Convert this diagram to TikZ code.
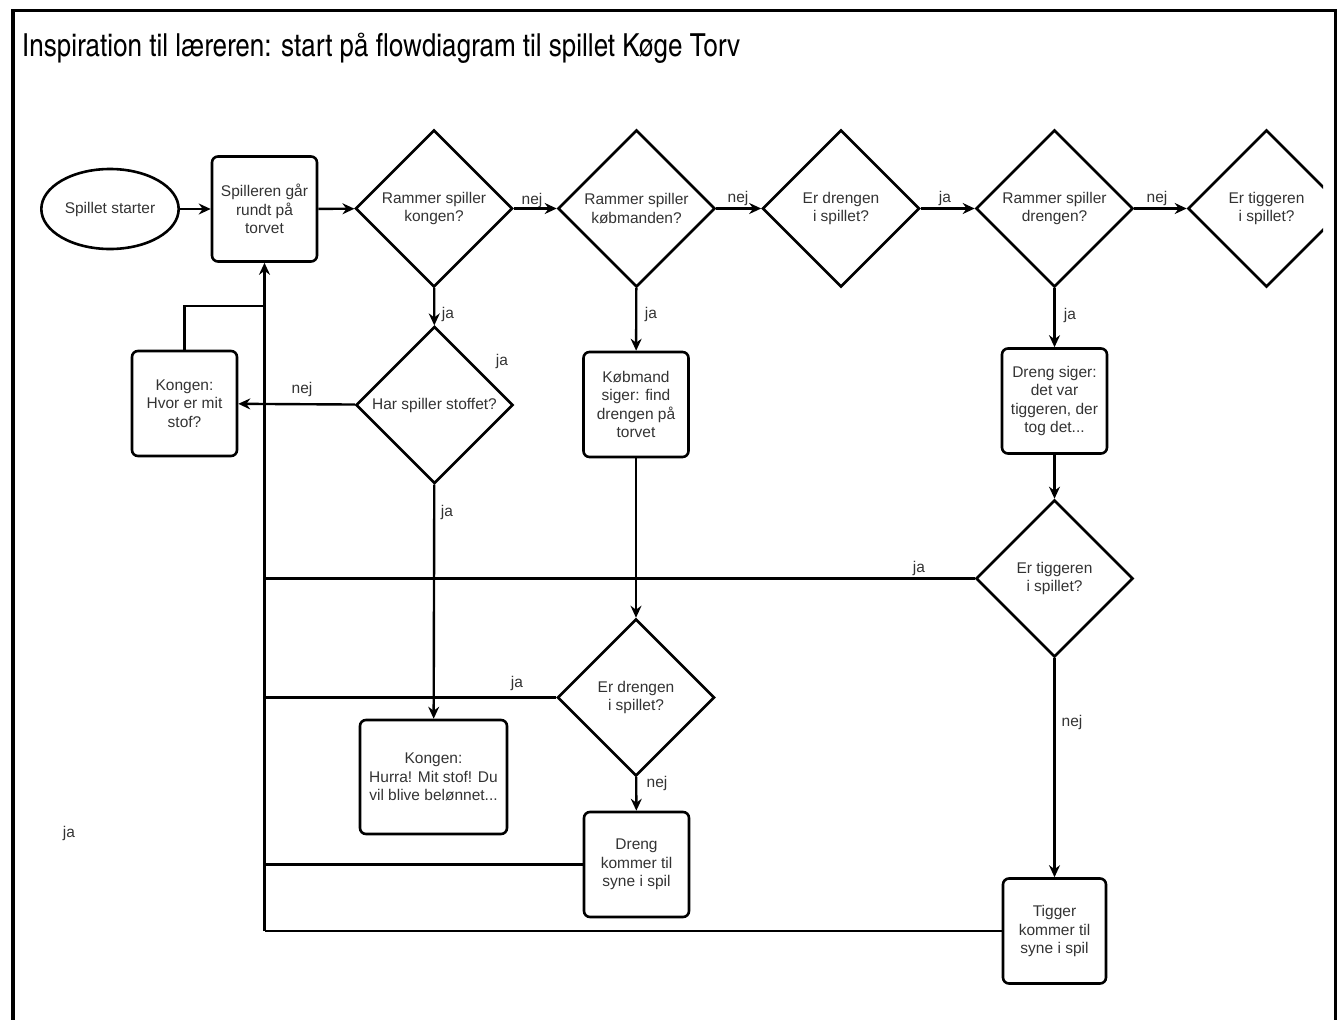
\documentclass[tikz,border=0pt]{standalone}
\usepackage{fontspec}
\setmainfont{Liberation Sans}
\newfontfamily\titelfont{texgyreheroscn-regular.otf}
\usepackage{graphicx}
\usetikzlibrary{shapes.geometric}
\usetikzlibrary{arrows.meta}
\definecolor{Tekst}{HTML}{333333}

\begin{document}
\begin{tikzpicture}[x=1pt,y=-1pt,
    every node/.style={font=\fontsize{15.5}{18.5}\selectfont, text=Tekst},
    boks/.style={draw=black, line width=2.6pt, rounded corners=6pt, minimum width=105pt, minimum height=105pt, align=center, inner sep=2pt},
    valg/.style={diamond, draw=black, line width=2.6pt, minimum width=157pt, minimum height=157pt, inner sep=0pt, align=center},
    oval/.style={ellipse, draw=black, line width=2.6pt, minimum width=131pt, minimum height=80pt},
    pil/.style={line width=2.4pt, -{Stealth[length=12pt,width=11pt,inset=4pt]}},
    streg/.style={line width=2.4pt},
    svar/.style={inner sep=0pt}]
    \useasboundingbox (0,0) rectangle (1344,1020);
    \draw[line width=3.6pt] (12.7,1030) -- (12.7,10.3) -- (1335.6,10.3) -- (1335.6,1030);
    \node[anchor=base west, inner sep=0pt, text=black] (titel) at (22,56)
      {\resizebox{718pt}{!}{\titelfont\fontsize{30}{36}\selectfont Inspiration til læreren: start på flowdiagram til spillet Køge Torv}};

    % oeverste raekke
    \node[oval] (start) at (110,209) {Spillet starter};
    \node[boks] (gaar) at (264.5,209) {Spilleren går\\rundt på\\torvet};
    \node[valg] (kongen) at (434,208.5) {Rammer spiller\\kongen?};
    \node[valg] (koebmand) at (636.5,208.5) {Rammer spiller\\købmanden?};
    \node[valg] (drengmed) at (841,208.5) {Er drengen\\i spillet?};
    \node[valg] (drengen) at (1054.5,208.5) {Rammer spiller\\drengen?};
    \begin{scope}
      \clip (1150,100) rectangle (1323,320);
      \node[valg] (tiggermed) at (1266.5,208.5) {Er tiggeren\\i spillet?};
    \end{scope}

    % kongen
    \node[valg] (stof) at (434.5,405) {Har spiller stoffet?};
    \node[boks] (hvor) at (184.5,403.5) {Kongen:\\Hvor er mit\\stof?};
    \node[boks, minimum width=147pt, minimum height=114pt] (hurra) at (433.5,777) {Kongen:\\Hurra! Mit stof! Du\\vil blive belønnet...};

    % koebmanden
    \node[boks] (find) at (636,404.5) {Købmand\\siger: find\\drengen på\\torvet};
    \node[valg] (drengmed2) at (636,697.5) {Er drengen\\i spillet?};
    \node[boks] (drengkom) at (636.5,864.5) {Dreng\\kommer til\\syne i spil};

    % drengen
    \node[boks] (siger) at (1054.5,401) {Dreng siger:\\det var\\tiggeren, der\\tog det...};
    \node[valg] (tiggermed2) at (1054.5,578.5) {Er tiggeren\\i spillet?};
    \node[boks, minimum width=103pt] (tiggerkom) at (1054.5,931) {Tigger\\kommer til\\syne i spil};

    \coordinate (samle) at (264.5,931);
    \coordinate (knaek) at (264.5,306);

    \draw[pil] (start) -- (gaar);
    \draw[pil] (gaar) -- (kongen);
    \draw[pil] (kongen) -- (koebmand);
    \draw[pil] (koebmand) -- (drengmed);
    \draw[pil] (drengmed) -- (drengen);
    \draw[pil] (drengen) -- (tiggermed);
    \draw[pil] (kongen) -- (stof);
    \draw[pil] (stof) -- (hvor);
    \draw[pil] (stof) -- (hurra);
    \draw[pil] (koebmand) -- (find);
    \draw[pil] (find) -- (drengmed2);
    \draw[pil] (drengmed2) -- (drengkom);
    \draw[pil] (drengen) -- (siger);
    \draw[pil] (siger) -- (tiggermed2);
    \draw[pil] (tiggermed2) -- (tiggerkom);
    \draw[streg] (hvor.north) |- (knaek);
    \draw[streg] (drengmed2.west) -- (drengmed2.west -| samle);
    \draw[streg] (drengkom.west) -- (drengkom.west -| samle);
    \draw[streg] (tiggermed2.west) -- (tiggermed2.west -| samle);
    \draw[streg] (tiggerkom.west) -- (samle);
    \draw[pil] (samle) -- (gaar.south);

    % svar
    \node[svar] (s1) at (532,200) {nej};
    \node[svar] (s2) at (738,198) {nej};
    \node[svar] (s3) at (945,198) {ja};
    \node[svar] (s4) at (1157,198) {nej};
    \node[svar] (s5) at (448,314) {ja};
    \node[svar] (s6) at (651,314) {ja};
    \node[svar] (s7) at (1070,315) {ja};
    \node[svar] (s8) at (502,361) {ja};
    \node[svar] (s9) at (302,389) {nej};
    \node[svar] (s10) at (447,512) {ja};
    \node[svar] (s11) at (517,683) {ja};
    \node[svar] (s12) at (657,783) {nej};
    \node[svar] (s13) at (919,568) {ja};
    \node[svar] (s14) at (1072,722) {nej};
    \node[svar] (s15) at (69,833) {ja};
  \end{tikzpicture}
\end{document}
